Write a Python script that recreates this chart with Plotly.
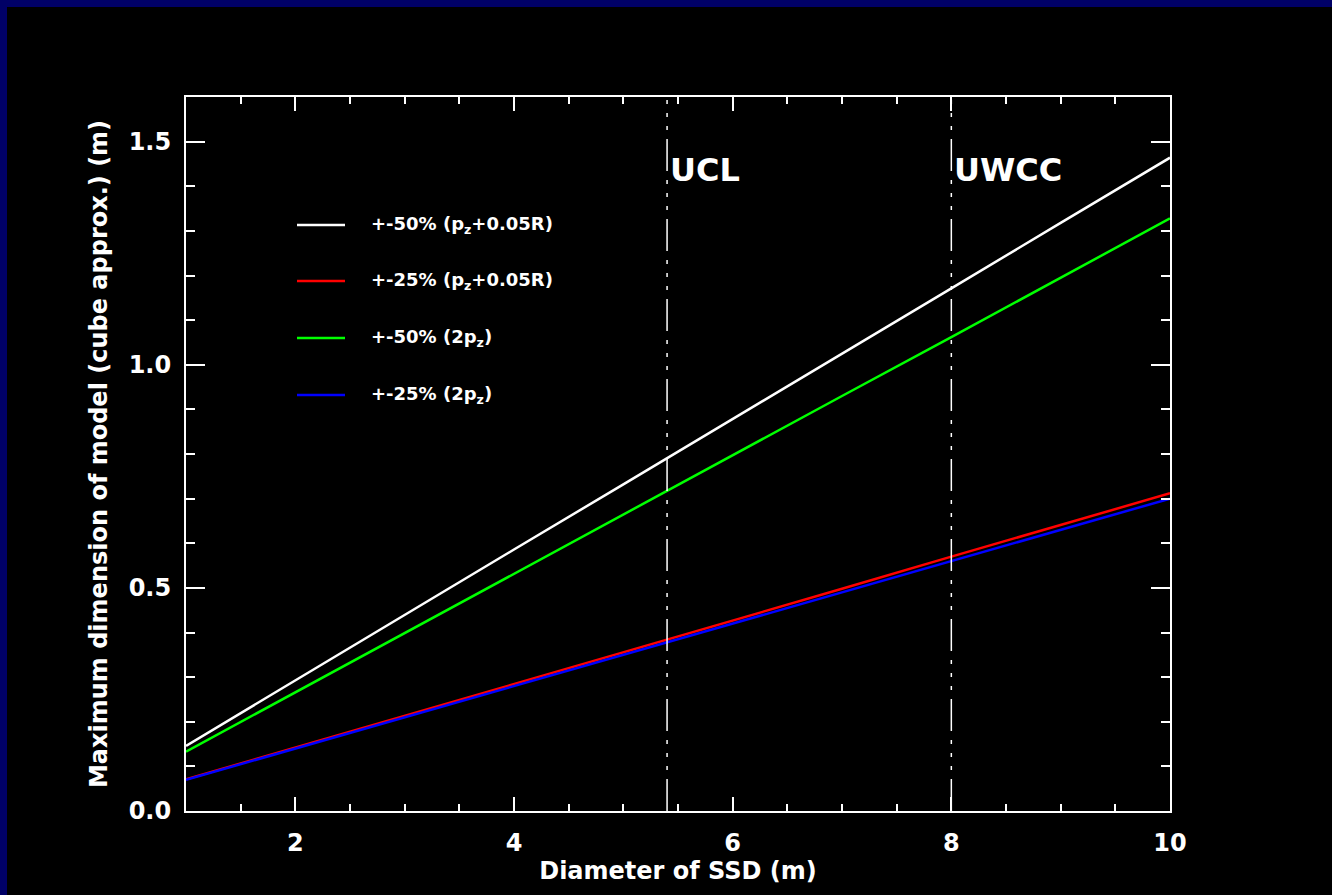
import plotly.graph_objects as go

# ---- data ----
diameter = [1, 2, 3, 4, 5, 6, 7, 8, 9, 10]
white_50_pz005R = [0.146, 0.293, 0.439, 0.586, 0.732, 0.878, 1.025, 1.171, 1.318, 1.464]
red_25_pz005R = [0.071, 0.142, 0.214, 0.285, 0.356, 0.427, 0.498, 0.570, 0.641, 0.712]
green_50_2pz = [0.133, 0.266, 0.398, 0.531, 0.664, 0.797, 0.930, 1.062, 1.195, 1.328]
blue_25_2pz = [0.070, 0.140, 0.210, 0.280, 0.350, 0.420, 0.490, 0.560, 0.630, 0.700]

series_names = ["+-50% (p<sub>z</sub>+0.05R)", "+-25% (p<sub>z</sub>+0.05R)",
                "+-50% (2p<sub>z</sub>)", "+-25% (2p<sub>z</sub>)"]
series_values = [white_50_pz005R, red_25_pz005R, green_50_2pz, blue_25_2pz]
series_colors = ["#ffffff", "#ff0000", "#00ff00", "#0000ff"]

site_names = ["UCL", "UWCC"]
site_diameters = [5.4, 8.0]

x_range = [1, 10]
y_range = [0, 1.6]

FONT = "DejaVu Sans"
W, H = 1332, 895
ML, MR, MT, MB = 186, 162, 97, 84
PW, PH = W - ML - MR, H - MT - MB

fig = go.Figure()
# draw order: white, green, red, blue so blue is on top of red
for idx in [0, 2, 1, 3]:
    fig.add_trace(go.Scatter(x=diameter, y=series_values[idx], mode="lines",
                             line=dict(color=series_colors[idx], width=2.5),
                             name=series_names[idx], showlegend=False))

shapes = []
annotations = []
# vertical site lines
for name, d in zip(site_names, site_diameters):
    shapes.append(dict(type="line", xref="x", yref="paper", x0=d, x1=d, y0=0, y1=1,
                       line=dict(color="white", width=1.5,
                                 dash="32px,9px,4px,9px,4px,9px,4px,9px")))
    annotations.append(dict(x=d, y=0.898, xref="x", yref="paper", text=name,
                            showarrow=False, xanchor="left", yanchor="middle", xshift=1,
                            font=dict(family=FONT, size=32, color="white", weight="bold")))

# legend (manual)
leg_y = [0.8207, 0.7423, 0.6625, 0.5826]
for name, col, ly in zip(series_names, series_colors, leg_y):
    shapes.append(dict(type="line", xref="paper", yref="paper",
                       x0=(297 - ML) / PW, x1=(345 - ML) / PW, y0=ly, y1=ly,
                       line=dict(color=col, width=2.5)))
    annotations.append(dict(x=(369 - ML) / PW, y=ly, xref="paper", yref="paper", text=name,
                            showarrow=False, xanchor="left", yanchor="middle",
                            font=dict(family=FONT, size=18, color="white", weight="bold")))

# dark blue frame strips on top and left
shapes.append(dict(type="rect", xref="paper", yref="paper", layer="below",
                   x0=-ML / PW, x1=(-ML + 7) / PW, y0=-MB / PH, y1=1 + MT / PH,
                   fillcolor="#000066", line=dict(width=0)))
shapes.append(dict(type="rect", xref="paper", yref="paper", layer="below",
                   x0=-ML / PW, x1=1 + MR / PW, y0=1 + (MT - 7) / PH, y1=1 + MT / PH,
                   fillcolor="#000066", line=dict(width=0)))

axis_common = dict(showgrid=False, zeroline=False, showline=True, linecolor="white",
                   linewidth=2, mirror="allticks", ticks="inside", tickcolor="white",
                   tickwidth=2,
                   tickfont=dict(family=FONT, size=24, color="white", weight="bold"))

fig.update_layout(
    width=W, height=H,
    margin=dict(l=ML, r=MR, t=MT, b=MB, pad=0),
    paper_bgcolor="black", plot_bgcolor="black",
    showlegend=False,
    shapes=shapes, annotations=annotations,
    xaxis=dict(range=x_range, tick0=0, dtick=2, ticklen=14, ticklabelstandoff=9,
               minor=dict(dtick=0.5, ticklen=7, tickcolor="white", tickwidth=2, ticks="inside"),
               title=dict(text="Diameter of SSD (m)", standoff=5,
                          font=dict(family=FONT, size=24, color="white", weight="bold")),
               **axis_common),
    yaxis=dict(range=y_range, tick0=0, dtick=0.5, ticklen=19, tickformat=".1f",
               minor=dict(dtick=0.1, ticklen=9, tickcolor="white", tickwidth=2, ticks="inside"),
               ticklabelstandoff=8,
               title=dict(text="Maximum dimension of model (cube approx.) (m)", standoff=14,
                          font=dict(family=FONT, size=24, color="white", weight="bold")),
               **axis_common),
)

fig.write_html("out.html")
